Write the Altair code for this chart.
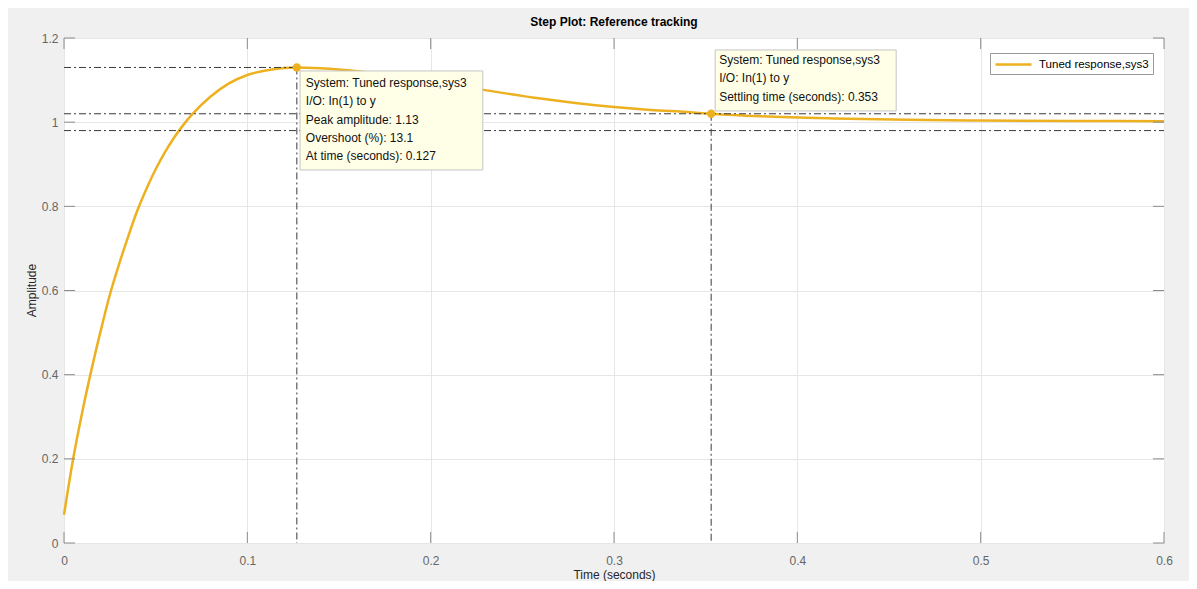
import altair as alt
import pandas as pd

# ---- data ----
t_vals = [0.000, 0.005, 0.010, 0.015, 0.020, 0.025, 0.030, 0.035, 0.040, 0.045,
          0.050, 0.055, 0.060, 0.065, 0.070, 0.080, 0.090, 0.100, 0.110, 0.120,
          0.127, 0.140, 0.160, 0.180, 0.200, 0.220, 0.240, 0.260, 0.280, 0.300,
          0.320, 0.340, 0.353, 0.380, 0.420, 0.460, 0.500, 0.550, 0.600]
amp_vals = [0.067, 0.200, 0.312, 0.412, 0.504, 0.590, 0.662, 0.728, 0.790, 0.842,
            0.888, 0.928, 0.963, 0.993, 1.019, 1.061, 1.092, 1.112, 1.123, 1.129,
            1.130, 1.128, 1.121, 1.110, 1.097, 1.083, 1.069, 1.056, 1.045, 1.036,
            1.029, 1.024, 1.020, 1.014, 1.009, 1.006, 1.004, 1.003, 1.002]
series_name = "Tuned response,sys3"

peak_t = 0.127
peak_amp = 1.13
settle_t = 0.353
final_value = 1.0
band = 0.02

x_ticks = [0, 0.1, 0.2, 0.3, 0.4, 0.5, 0.6]
y_ticks = [0, 0.2, 0.4, 0.6, 0.8, 1.0, 1.2]

tip1_lines = ["System: Tuned response,sys3", "I/O: In(1) to y", "Peak amplitude: 1.13",
              "Overshoot (%): 13.1", "At time (seconds): 0.127"]
tip2_lines = ["System: Tuned response,sys3", "I/O: In(1) to y",
              "Settling time (seconds): 0.353"]

FONT = "Liberation Sans"
LINE_COLOR = "#EDB120"
xs = alt.Scale(domain=[0, 0.6], nice=False, zero=False)
ys = alt.Scale(domain=[0, 1.2], nice=False, zero=False)

curve_df = pd.DataFrame({"t": t_vals, "amp": amp_vals, "series": series_name})

x_axis = alt.Axis(values=x_ticks, format="~g", grid=True, gridColor="#e6e6e6", tickSize=0,
                  domain=False, labelPadding=12, labelFlush=False, labelColor="#666666",
                  labelFont=FONT, labelFontSize=12, title="Time (seconds)",
                  titleColor="#262626", titleFont=FONT, titleFontSize=12,
                  titleFontWeight="normal", titleY=31, titleBaseline="middle")
y_axis = alt.Axis(values=y_ticks, format="~g", grid=True, gridColor="#e6e6e6", tickSize=0,
                  domain=False, labelPadding=6, labelFlush=False, labelColor="#666666",
                  labelFont=FONT, labelFontSize=12, title="Amplitude", titleColor="#262626",
                  titleFont=FONT, titleFontSize=12, titleFontWeight="normal",
                  titleX=-33, titleY=252, titleBaseline="middle", titleAlign="center")

def X(field):
    return alt.X(field, scale=xs, axis=x_axis)

def Y(field):
    return alt.Y(field, scale=ys, axis=y_axis)

# reference (dash-dot) lines
seg_df = pd.DataFrame({
    "t1": [0, peak_t, 0, 0, settle_t],
    "a1": [peak_amp, peak_amp, final_value + band, final_value - band, final_value + band],
    "t2": [peak_t, peak_t, 0.6, 0.6, settle_t],
    "a2": [peak_amp, 0, final_value + band, final_value - band, 0],
})
segs = alt.Chart(seg_df).mark_rule(strokeDash=[7, 3, 2, 3], color="#3a3a3a", strokeWidth=1).encode(
    x=X("t1:Q"), y=Y("a1:Q"), x2="t2:Q", y2="a2:Q")

curve = alt.Chart(curve_df).mark_line(strokeWidth=2.5, interpolate="monotone").encode(
    x=X("t:Q"),
    y=Y("amp:Q"),
    color=alt.Color("series:N", scale=alt.Scale(domain=[series_name], range=[LINE_COLOR]),
                    legend=alt.Legend(title=None, orient="none", legendX=926, legendY=15,
                                      symbolType="M-3,0H3", symbolSize=144,
                                      symbolStrokeWidth=2.5, symbolOffset=12,
                                      labelFont=FONT, labelFontSize=11.5,
                                      labelColor="#000000", labelOffset=18,
                                      fillColor="white", strokeColor="#999999",
                                      padding=4)),
)

pts_df = pd.DataFrame({"t": [peak_t, settle_t], "amp": [peak_amp, final_value + band]})
dots = alt.Chart(pts_df).mark_circle(size=70, color=LINE_COLOR, opacity=1).encode(
    x=X("t:Q"), y=Y("amp:Q"))

tip1_df = pd.DataFrame({"t": [peak_t], "amp": [peak_amp], "txt": ["\n".join(tip1_lines)]})
tip2_df = pd.DataFrame({"t": [settle_t], "amp": [final_value + band], "txt": ["\n".join(tip2_lines)]})

def tip_layers(df, xo, x2o, yo, y2o, dx, dy):
    box = alt.Chart(df).mark_rect(fill="#FFFFE8", stroke="#c4c4c4", strokeWidth=1,
                                  xOffset=xo, x2Offset=x2o, yOffset=yo, y2Offset=y2o).encode(
        x=X("t:Q"), x2="t:Q", y=Y("amp:Q"), y2="amp:Q")
    txt = alt.Chart(df).mark_text(align="left", baseline="top", lineBreak="\n", lineHeight=18.3,
                                  font=FONT, fontSize=12, color="#111111", dx=dx, dy=dy).encode(
        x=X("t:Q"), y=Y("amp:Q"), text="txt:N")
    return box, txt

box1, txt1 = tip_layers(tip1_df, 3.2, 186, 3.5, 102.5, 9, 10.5)
box2, txt2 = tip_layers(tip2_df, 4, 185, -63.8, -2.8, 8, -58.8)

# inward tick marks on all four sides
xt_df = pd.DataFrame({"v": x_ticks})
yt_df = pd.DataFrame({"v": y_ticks})
TICK = dict(color="#8c8c8c", strokeWidth=1)
tick_bottom = alt.Chart(xt_df).mark_rule(y2Offset=-11, **TICK).encode(
    x=X("v:Q"), y=alt.datum(0, scale=ys, axis=y_axis), y2=alt.datum(0))
tick_top = alt.Chart(xt_df).mark_rule(y2Offset=11, **TICK).encode(
    x=X("v:Q"), y=alt.datum(1.2, scale=ys, axis=y_axis), y2=alt.datum(1.2))
tick_left = alt.Chart(yt_df).mark_rule(x2Offset=11, **TICK).encode(
    y=Y("v:Q"), x=alt.datum(0, scale=xs, axis=x_axis), x2=alt.datum(0))
tick_right = alt.Chart(yt_df).mark_rule(x2Offset=-11, **TICK).encode(
    y=Y("v:Q"), x=alt.datum(0.6, scale=xs, axis=x_axis), x2=alt.datum(0.6))

chart = alt.layer(curve, segs, dots, box1, txt1, box2, txt2,
                  tick_bottom, tick_top, tick_left, tick_right).properties(
    width=1100, height=505,
    title=alt.TitleParams("Step Plot: Reference tracking", font=FONT, fontSize=12,
                          fontWeight="bold", color="#000000", anchor="middle", offset=3),
    autosize=alt.AutoSizeParams(type="none"),
    padding={"left": 56, "top": 30, "right": 25, "bottom": 38},
).configure(background="#f0f0f0").configure_view(fill="white", stroke="#a0a0a0", strokeWidth=1)

chart.save("out.html", embed_options={"renderer": "svg", "actions": False})
